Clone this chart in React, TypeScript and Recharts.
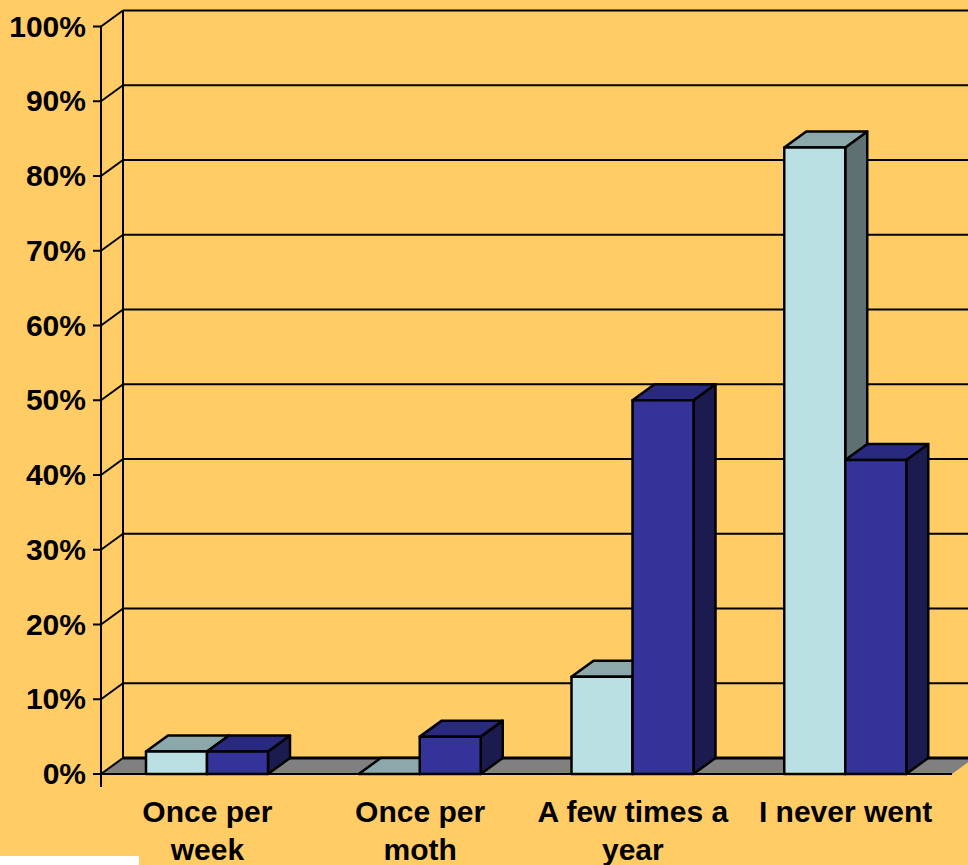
import { BarChart, Bar, XAxis, YAxis, CartesianGrid } from "recharts";

const categories = ["Once per week", "Once per moth", "A few times a year", "I never went"];
const tickLines = [["Once per", "week"], ["Once per", "moth"], ["A few times a", "year"], ["I never went"]];
const seriesLight = [3, 0, 13, 83.8];
const seriesDark = [3, 5, 50, 42];
const yTicks = [0, 10, 20, 30, 40, 50, 60, 70, 80, 90, 100];

const DX = 22;
const DY = 16;
const FONT = "'Liberation Sans', Arial, sans-serif";

const data = categories.map((name, i) => ({ name, light: seriesLight[i], dark: seriesDark[i] }));

// 3D column: front face, top and right side
function makeBox(front: string, top: string, side: string) {
  return function Box(props: any) {
    const { x, y, width, height } = props;
    const common = { stroke: "#000", strokeWidth: 2.5, strokeLinejoin: "round" as const };
    return (
      <g>
        <polygon points={`${x + width},${y} ${x + width + DX},${y - DY} ${x + width + DX},${y + height - DY} ${x + width},${y + height}`} fill={side} {...common} />
        <polygon points={`${x},${y} ${x + DX},${y - DY} ${x + width + DX},${y - DY} ${x + width},${y}`} fill={top} {...common} />
        {height > 0 && <rect x={x} y={y} width={width} height={height} fill={front} {...common} />}
      </g>
    );
  };
}

const LightBox = makeBox("#BBE0E3", "#8CA8AA", "#5E7072");
const DarkBox = makeBox("#333399", "#292980", "#1B1B50");

// back wall line + slanted side wall line; the zero line also carries the floor
function WallLine(props: any) {
  const { x1, y1, x2, y, height, index } = props;
  const isFloor = y1 >= y + height - 1;
  return (
    <g key={`wall-${index}`}>
      {isFloor && (
        <>
          <polygon points={`${x1},${y1} ${x1 + DX},${y1 - DY} ${x2 + DX},${y1 - DY} ${x2},${y1}`} fill="#808080" />
          <line x1={x1 + DX} y1={y - DY} x2={x1 + DX} y2={y1 - DY} stroke="#000" strokeWidth={2} />
          <line x1={x1} y1={y1} x2={x1} y2={y1 + 13} stroke="#000" strokeWidth={2} />
        </>
      )}
      <line x1={x1 + DX} y1={y1 - DY} x2={x2 + DX} y2={y1 - DY} stroke="#000" strokeWidth={isFloor ? 3 : 2} />
      <line x1={x1} y1={y1} x2={x1 + DX} y2={y1 - DY} stroke="#000" strokeWidth={2} />
    </g>
  );
}

function CategoryTick(props: any) {
  const { x, y, index } = props;
  return (
    <text x={x} y={y} textAnchor="middle" fontFamily={FONT} fontSize={30} fontWeight={700} fill="#000">
      {tickLines[index].map((line, i) => (
        <tspan key={line} x={x} dy={i === 0 ? 48 : 38}>{line}</tspan>
      ))}
    </text>
  );
}

function PercentTick(props: any) {
  const { x, y, payload } = props;
  return (
    <text x={x} y={y + 10} textAnchor="end" fontFamily={FONT} fontSize={30} fontWeight={700} fill="#000">
      {payload.value}%
    </text>
  );
}

export default function App() {
  return (
    <div style={{ position: "absolute", left: 0, top: 0, width: 968, height: 865, background: "#FFCC66", overflow: "hidden" }}>
      <BarChart width={968} height={865} data={data} margin={{ top: 26.5, right: 16, bottom: 0, left: 0 }} barSize={61} barGap={0}>
        <CartesianGrid vertical={false} horizontal={WallLine} />
        <XAxis dataKey="name" height={91} interval={0} tickLine={false} tickSize={0} tickMargin={0} axisLine={{ stroke: "#000", strokeWidth: 2 }} tick={CategoryTick} />
        <YAxis width={101} domain={[0, 100]} ticks={yTicks} interval={0} tickSize={8} tickMargin={7} tickLine={{ stroke: "#000", strokeWidth: 2 }} axisLine={{ stroke: "#000", strokeWidth: 2 }} tick={PercentTick} />
        <Bar dataKey="light" isAnimationActive={false} shape={LightBox} />
        <Bar dataKey="dark" isAnimationActive={false} shape={DarkBox} />
      </BarChart>
      <div style={{ position: "absolute", left: 0, top: 856, width: 139, height: 9, background: "#fff" }} />
    </div>
  );
}
